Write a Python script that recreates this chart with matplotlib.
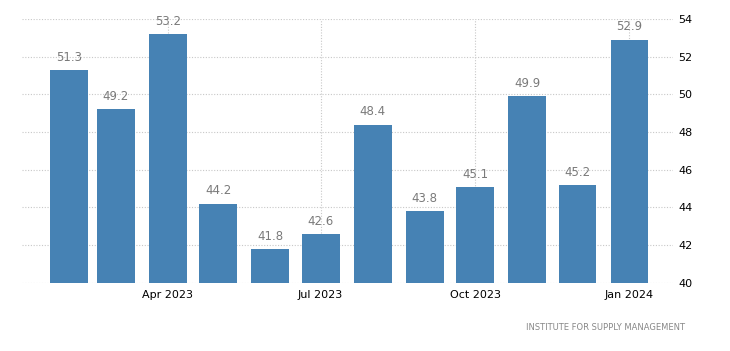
import matplotlib
matplotlib.use("Agg")
import matplotlib.pyplot as plt
import matplotlib.dates as mdates
import datetime as dt

months = ["2023-02", "2023-03", "2023-04", "2023-05", "2023-06", "2023-07",
          "2023-08", "2023-09", "2023-10", "2023-11", "2023-12", "2024-01"]
values = [51.3, 49.2, 53.2, 44.2, 41.8, 42.6, 48.4, 43.8, 45.1, 49.9, 45.2, 52.9]
yticks = [40, 42, 44, 46, 48, 50, 52, 54]
xtick_months = ["2023-04", "2023-07", "2023-10", "2024-01"]
source = "INSTITUTE FOR SUPPLY MANAGEMENT"

def to_date(s):
    y, m = s.split("-")
    return dt.datetime(int(y), int(m), 1)

dates = [to_date(m) for m in months]
xt = [to_date(m) for m in xtick_months]

fig = plt.figure(figsize=(7.30, 3.51), dpi=100)
ax = fig.add_axes([0.030, 0.194, 0.892, 0.752])

bar_color = "#4682b4"
ax.bar(dates, [v - 40 for v in values], bottom=40, width=22.5, color=bar_color, zorder=2)

for d, v in zip(dates, values):
    ax.annotate(f"{v:.1f}", (d, v), xytext=(0, 4.5), textcoords="offset points",
                ha="center", va="bottom", fontsize=8.5, color="#7a7a7a", zorder=3)

ax.set_ylim(40, 54)
ax.set_yticks(yticks)
ax.set_xlim(dt.datetime(2023, 1, 4), dt.datetime(2024, 1, 27))
ax.set_xticks(xt)
ax.xaxis.set_major_formatter(mdates.DateFormatter("%b %Y"))

ax.yaxis.tick_right()
ax.tick_params(axis="both", length=0, labelsize=8, colors="black")
ax.tick_params(axis="y", pad=4)
ax.tick_params(axis="x", pad=5)

for s in ax.spines.values():
    s.set_visible(False)

ax.grid(True, axis="both", color="#c8c8c8", linestyle=(0, (1, 1.5)), linewidth=0.8, zorder=0)
ax.set_axisbelow(True)

fig.text(0.938, 0.068, source, ha="right", va="center", fontsize=6, color="#888888")

fig.savefig("out.png", dpi=100)
